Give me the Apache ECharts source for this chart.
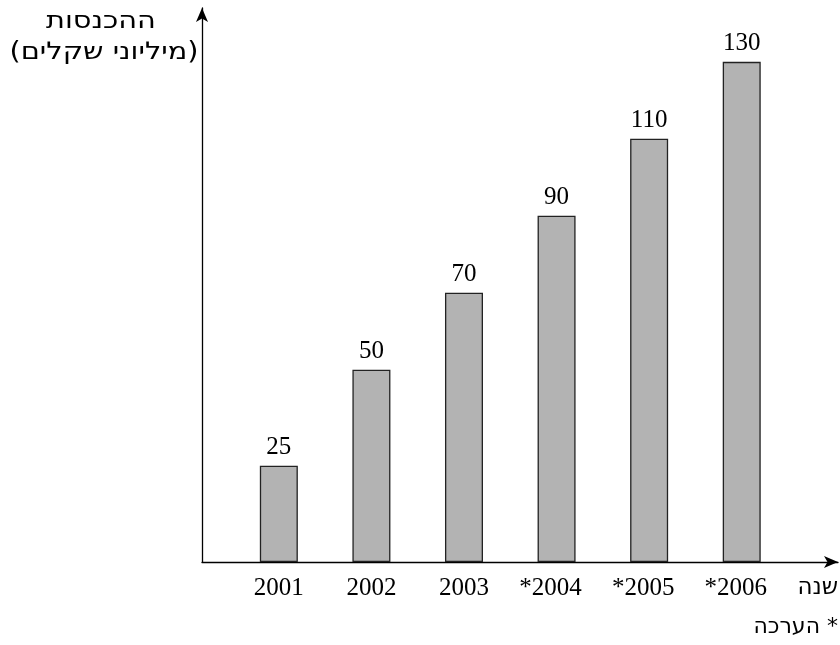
<!DOCTYPE html>
<html>
<head>
<meta charset="utf-8">
<script src="https://cdn.jsdelivr.net/npm/echarts@6/dist/echarts.min.js"></script>
<style>html,body{margin:0;padding:0;background:#fff}#c{width:840px;height:645px}</style>
</head>
<body>
<div id="c"></div>
<script>
const years = [2001, 2002, 2003, 2004, 2005, 2006];
const yearLabels = ['2001', '2002', '2003', '*2004', '*2005', '*2006'];
const revenues = [25, 50, 70, 90, 110, 130];
const yTitle1 = 'ההכנסות';
const yTitle2 = '(מיליוני שקלים)';
const xTitle = 'שנה';
const note = 'הערכה *';

const chart = echarts.init(document.getElementById('c'));
const serif = '"Liberation Serif", "DejaVu Serif", serif';
const sans = '"DejaVu Sans", sans-serif';
chart.setOption({
  animation: false,
  backgroundColor: '#fff',
  grid: { left: 202, right: 2, top: 8, bottom: 83, containLabel: false },
  xAxis: {
    type: 'value', min: 2000.17, max: 2007.04,
    splitLine: { show: false },
    axisTick: { show: false },
    axisLine: { show: true, onZero: false, symbol: ['none', 'arrow'], symbolSize: [9, 14], lineStyle: { color: '#000', width: 1.3 } },
    axisLabel: {
      customValues: years,
      margin: 14,
      fontFamily: serif, fontSize: 25, color: '#000',
      rich: { s: { width: 12, fontFamily: serif, fontSize: 25 } },
      formatter: v => {
        const t = yearLabels[years.indexOf(Math.round(v))] || '';
        return t.charAt(0) === '*' ? t + '{s|}' : t;
      }
    }
  },
  yAxis: {
    type: 'value', min: 0, max: 144,
    splitLine: { show: false },
    axisTick: { show: false },
    axisLabel: { show: false },
    axisLine: { show: true, symbol: ['none', 'arrow'], symbolSize: [9, 14], lineStyle: { color: '#000', width: 1.3 } }
  },
  series: [{
    type: 'bar',
    data: years.map((y, i) => [y, revenues[i]]),
    barWidth: 38,
    itemStyle: { color: '#b3b3b3', borderColor: '#222', borderWidth: 1.3 },
    label: { show: true, position: 'top', distance: 6, fontFamily: serif, fontSize: 25, color: '#000' }
  }],
  graphic: [
    { type: 'text', x: 101, y: 22, scaleX: 1.2, style: { text: yTitle1, x: 0, y: 0, font: '24px ' + sans, fill: '#000', textAlign: 'center', textVerticalAlign: 'middle' } },
    { type: 'text', x: 104, y: 53, scaleX: 1.2, style: { text: yTitle2, x: 0, y: 0, font: '24px ' + sans, fill: '#000', textAlign: 'center', textVerticalAlign: 'middle' } },
    { type: 'text', x: 838, y: 588, style: { text: xTitle, x: 0, y: 0, font: '23px ' + sans, fill: '#000', textAlign: 'right', textVerticalAlign: 'middle' } },
    { type: 'text', x: 838, y: 627, style: { text: note, x: 0, y: 0, font: '22px ' + sans, fill: '#000', textAlign: 'right', textVerticalAlign: 'middle' } }
  ]
});
</script>
</body>
</html>
